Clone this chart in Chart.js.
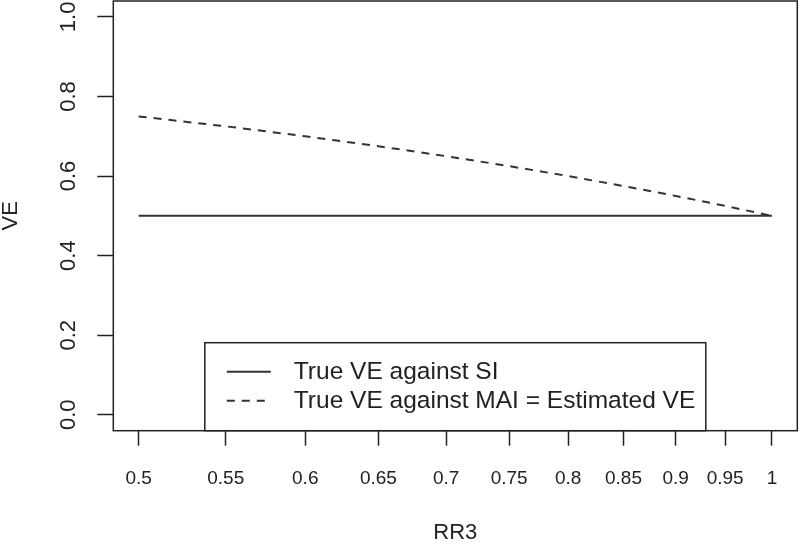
<!DOCTYPE html>
<html>
<head>
<meta charset="utf-8">
<script src="https://cdn.jsdelivr.net/npm/chart.js@4"></script>
<style>
  html, body { margin: 0; padding: 0; background: #fff; }
  #wrap { width: 800px; height: 546px; position: relative; }
</style>
</head>
<body>
<div id="wrap"><canvas id="c"></canvas></div>
<script>
// data
const rr3 = [0.5, 0.55, 0.6, 0.65, 0.7, 0.75, 0.8, 0.85, 0.9, 0.95, 1];
const veSI = [0.5, 0.5, 0.5, 0.5, 0.5, 0.5, 0.5, 0.5, 0.5, 0.5, 0.5];
const veMAI = [0.75, 0.725, 0.7, 0.675, 0.65, 0.625, 0.6, 0.575, 0.55, 0.525, 0.5];
const xTickLabels = ['0.5', '0.55', '0.6', '0.65', '0.7', '0.75', '0.8', '0.85', '0.9', '0.95', '1'];
const yTicks = [0, 0.2, 0.4, 0.6, 0.8, 1.0];
const yTickLabels = ['0.0', '0.2', '0.4', '0.6', '0.8', '1.0'];
const seriesLabels = ['True VE against SI', 'True VE against MAI = Estimated VE'];

const FONT = '"Liberation Sans", Arial, Helvetica, sans-serif';
const INK = '#222';

// R-style box, rotated y labels and inset legend
const rPlot = {
    id: 'rPlot',
    afterDraw(chart) {
        const { ctx, chartArea: a, scales: { y } } = chart;
        ctx.save();
        ctx.strokeStyle = INK;
        ctx.lineWidth = 1.5;
        ctx.strokeRect(a.left, a.top, a.right - a.left, a.bottom - a.top);

        // y tick labels, rotated like R's las=0
        ctx.fillStyle = INK;
        ctx.font = '22px ' + FONT;
        ctx.textAlign = 'center';
        ctx.textBaseline = 'middle';
        y.ticks.forEach((t, i) => {
            ctx.save();
            ctx.translate(69, y.getPixelForValue(t.value));
            ctx.rotate(-Math.PI / 2);
            ctx.fillText(yTickLabels[i], 0, 0);
            ctx.restore();
        });

        // legend at bottom of plot region
        const w = 501, h = 88;
        const lx = (a.left + a.right) / 2 - w / 2;
        const ly = a.bottom - h;
        ctx.fillStyle = '#fff';
        ctx.fillRect(lx, ly, w, h);
        ctx.strokeStyle = INK;
        ctx.lineWidth = 1.5;
        ctx.strokeRect(lx, ly, w, h);
        ctx.font = '24.5px ' + FONT;
        ctx.textAlign = 'left';
        chart.data.datasets.forEach((ds, i) => {
            const ry = ly + 29 + i * 29;
            ctx.strokeStyle = ds.borderColor;
            ctx.lineWidth = ds.borderWidth;
            ctx.setLineDash(ds.borderDash || []);
            ctx.beginPath();
            ctx.moveTo(lx + 22, ry);
            ctx.lineTo(lx + 66, ry);
            ctx.stroke();
            ctx.setLineDash([]);
            ctx.fillStyle = INK;
            ctx.fillText(ds.label, lx + 89, ry + 1);
        });
        ctx.restore();
    }
};

new Chart(document.getElementById('c'), {
    type: 'line',
    data: {
        datasets: [{
            label: seriesLabels[0],
            data: rr3.map((x, i) => ({ x, y: veSI[i] })),
            borderColor: '#333',
            borderWidth: 2,
            pointRadius: 0,
            tension: 0
        }, {
            label: seriesLabels[1],
            data: rr3.map((x, i) => ({ x, y: veMAI[i] })),
            borderColor: '#333',
            borderWidth: 2,
            borderDash: [8, 7],
            pointRadius: 0,
            tension: 0
        }]
    },
    options: {
        animation: false,
        responsive: true,
        maintainAspectRatio: false,
        layout: { padding: { top: 1, right: 2.7, left: 0, bottom: 0 } },
        plugins: { legend: { display: false }, tooltip: { enabled: false } },
        scales: {
            x: {
                type: 'logarithmic',
                min: 0.4863,
                max: 1.0281,
                afterBuildTicks: s => { s.ticks = rr3.map(v => ({ value: v })); },
                afterFit: s => { s.height = 115.3; },
                grid: { drawOnChartArea: false, drawTicks: true, tickLength: 15, tickWidth: 1.5, tickColor: INK },
                border: { display: false },
                ticks: {
                    autoSkip: false,
                    maxRotation: 0,
                    minRotation: 0,
                    padding: 22,
                    color: INK,
                    font: { family: FONT, size: 19 },
                    callback: (v, i) => xTickLabels[i]
                },
                title: { display: true, text: 'RR3', color: INK, font: { family: FONT, size: 22 }, padding: { top: 0, bottom: 0 } }
            },
            y: {
                type: 'linear',
                min: -0.04,
                max: 1.04,
                afterBuildTicks: s => { s.ticks = yTicks.map(v => ({ value: v })); },
                afterFit: s => { s.width = 113.3; },
                grid: { drawOnChartArea: false, drawTicks: true, tickLength: 16, tickWidth: 1.5, tickColor: INK },
                border: { display: false },
                ticks: { display: false },
                title: { display: true, text: 'VE', color: INK, font: { family: FONT, size: 22, lineHeight: 1 }, padding: { top: 0, bottom: 0 } }
            }
        }
    },
    plugins: [rPlot]
});
</script>
</body>
</html>
